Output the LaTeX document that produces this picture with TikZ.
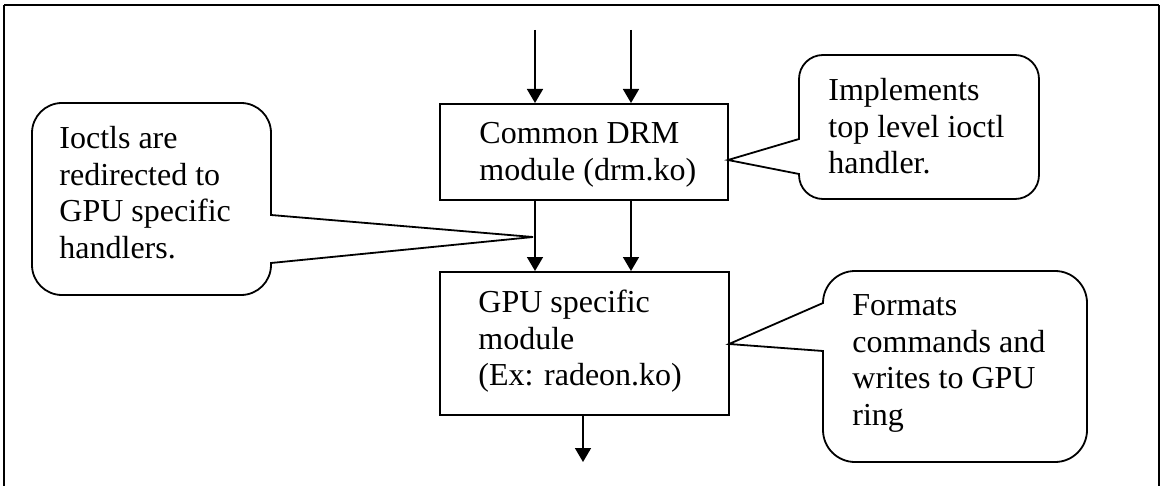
\documentclass[tikz,border=0pt]{standalone}
\usepackage{fontspec}
\setmainfont{Liberation Serif}
\usetikzlibrary{arrows.meta,calc}
\tikzset{
  modbox/.style={draw, line width=1pt, rectangle, inner sep=0pt, anchor=north west},
  txt/.style={anchor=north west, inner sep=0pt, align=left, font=\fontsize{16}{18.3}\selectfont},
  conn/.style={line width=0.8pt, -{Triangle[length=7pt,width=8pt]}},
  balloon/.style={draw, line width=0.9pt, line join=miter, fill=white},
  frameline/.style={line width=0.8pt}
}
\begin{document}
\begin{tikzpicture}[x=0.5pt,y=-0.5pt]
\useasboundingbox (0,0) rectangle (1160,486);
% outer frame (open at the bottom)
\coordinate (fbl) at (4,486);
\coordinate (ftl) at (4,5);
\coordinate (ftr) at (1159,5);
\coordinate (fbr) at (1159,486);
\draw[frameline] (fbl) -- (ftl);
\draw[frameline] (ftr) -- (fbr);
\draw[line width=1.3pt] (ftl) -- (ftr);

% module boxes
\node[modbox, minimum width=144pt, minimum height=48pt] (drm) at (439,103) {};
\node[modbox, minimum width=144.5pt, minimum height=71.5pt] (gpu) at (439,271) {};
\node[txt] (drmtext) at (479,117.4) {\strut Common DRM\\module (drm.ko)};
\node[txt] (gputext) at (478,286.4) {\strut GPU specific\\module\\(Ex: radeon.ko)};

% connectors
\coordinate (inA) at (535,30);
\coordinate (inB) at (631,30);
\coordinate (outA) at (583,462);
\draw[conn] (inA) -- (inA |- drm.north);
\draw[conn] (inB) -- (inB |- drm.north);
\draw[conn] (inA |- drm.south) -- (inA |- gpu.north);
\draw[conn] (inB |- drm.south) -- (inB |- gpu.north);
\draw[conn] (gpu.south -| outA) -- (outA);

% callout 1
\coordinate (tipA) at (728,160);
\draw[balloon] (799,139) -- (tipA) -- (799,174) -- (799,175)
  .. controls (799,188.3) and (809.7,199) .. (823,199) -- (1015,199)
  .. controls (1028.3,199) and (1039,188.3) .. (1039,175) -- (1039,79)
  .. controls (1039,65.7) and (1028.3,55) .. (1015,55) -- (823,55)
  .. controls (809.7,55) and (799,65.7) .. (799,79) -- cycle;
\node[txt] (noteA) at (828,74.4) {\strut Implements\\top level ioctl\\handler.};

% callout 2
\coordinate (tipB) at (533,237);
\draw[balloon] (271,215) -- (tipB) -- (271,263) -- (271,265)
  .. controls (271,281.6) and (257.6,295) .. (241,295) -- (62,295)
  .. controls (45.4,295) and (32,281.6) .. (32,265) -- (32,133)
  .. controls (32,116.4) and (45.4,103) .. (62,103) -- (241,103)
  .. controls (257.6,103) and (271,116.4) .. (271,133) -- cycle;
\node[txt] (noteB) at (59,122.4) {\strut Ioctls are\\redirected to\\GPU specific\\handlers.};

% callout 3
\coordinate (tipC) at (729,344);
\draw[balloon] (823,303) -- (tipC) -- (823,351) -- (823,430)
  .. controls (823,447.7) and (837.3,462) .. (855,462) -- (1055,462)
  .. controls (1072.7,462) and (1087,447.7) .. (1087,430) -- (1087,303)
  .. controls (1087,285.3) and (1072.7,271) .. (1055,271) -- (855,271)
  .. controls (837.3,271) and (823,285.3) .. (823,303) -- cycle;
\node[txt] (noteC) at (852,289.4) {\strut Formats\\commands and\\writes to GPU\\ring};
\end{tikzpicture}
\end{document}
